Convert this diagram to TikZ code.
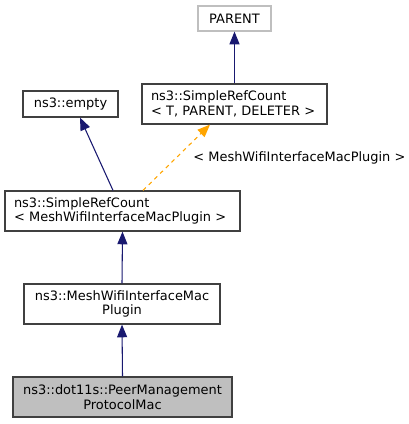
\documentclass[tikz,border=0pt]{standalone}
\usepackage{fontspec}
\setmainfont{DejaVu Sans}
\usetikzlibrary{arrows.meta,calc}
\definecolor{edgeblue}{HTML}{191970}
\definecolor{edgeorange}{HTML}{FFA500}
\definecolor{boxgray}{HTML}{BFBFBF}
\definecolor{framegray}{HTML}{404040}
\tikzset{
  cls/.style={draw=framegray,line width=0.9pt,inner sep=0pt,align=center,
    font=\fontsize{9.7}{11}\selectfont},
  clsleft/.style={cls,align=left},
  inherit/.style={draw=edgeblue,line width=0.8pt,-{Triangle[length=9.5pt,width=7.5pt]}},
  templ/.style={draw=edgeorange,line width=0.8pt,dashed,-{Triangle[length=9.5pt,width=7.5pt]}}
}
\begin{document}
\begin{tikzpicture}[x=0.75pt,y=-0.75pt]
  \useasboundingbox (0,0) rectangle (408,424);
  % classes
  \node[cls,draw=boxgray,minimum width=73*0.75pt,minimum height=25*0.75pt] (parent) at (234.5,18.5) {PARENT};
  \node[clsleft,minimum width=185*0.75pt,minimum height=40*0.75pt,text width=167*0.75pt] (srct) at (234.5,104)
    {ns3::SimpleRefCount\\< T, PARENT, DELETER >};
  \node[cls,minimum width=95*0.75pt,minimum height=26*0.75pt] (empty) at (70.5,104) {ns3::empty};
  \node[clsleft,minimum width=235*0.75pt,minimum height=40*0.75pt,text width=217*0.75pt] (srcm) at (122.5,211)
    {ns3::SimpleRefCount\\< MeshWifiInterfaceMacPlugin >};
  \node[cls,minimum width=196*0.75pt,minimum height=40*0.75pt] (plugin) at (122,304)
    {ns3::MeshWifiInterfaceMac\\Plugin};
  \node[cls,fill=boxgray,minimum width=219*0.75pt,minimum height=40*0.75pt] (pmp) at (122.5,397)
    {ns3::dot11s::PeerManagement\\ProtocolMac};
  % edges
  \draw[inherit] (srct.north) -- (parent.south);
  \draw[inherit] ($(srcm.north)+(-9.5,0)$) -- ($(empty.south)+(9.5,0)$);
  \draw[templ] ($(srcm.north)+(20.5,0)$) -- ($(srct.south)+(-24.5,0)$)
    node[midway,anchor=west,xshift=9pt,font=\fontsize{9.7}{11}\selectfont] {< MeshWifiInterfaceMacPlugin >};
  \draw[inherit] (plugin.north) -- (srcm.south);
  \draw[inherit] (pmp.north) -- (plugin.south);
\end{tikzpicture}
\end{document}
